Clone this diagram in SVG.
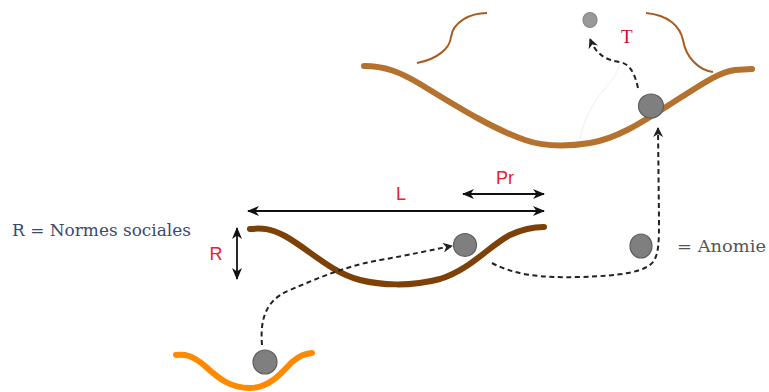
<svg xmlns="http://www.w3.org/2000/svg" width="769" height="392" viewBox="0 0 769 392">
<defs>
<style>
.lbl{font-family:"Liberation Sans",Arial,sans-serif;fill:#e8212b}
.ser{font-family:"DejaVu Serif","Liberation Serif",serif}
.ball{fill:#7f7f7f;stroke:#5e5e5e;stroke-width:1.2}
.dash{fill:none;stroke:#222;stroke-width:2;stroke-dasharray:5,3.5}
.dim{fill:none;stroke:#111;stroke-width:1.8}
</style>
<marker id="ah" viewBox="0 0 12 10" refX="11" refY="5" markerWidth="12" markerHeight="10" markerUnits="userSpaceOnUse" orient="auto-start-reverse">
<path d="M0,0 L12,5 L0,10 L3.5,5 Z" fill="#111"/>
</marker>
<marker id="dh" viewBox="0 0 10 10" refX="9" refY="5" markerWidth="10" markerHeight="10" markerUnits="userSpaceOnUse" orient="auto">
<path d="M0,0 L10,5 L0,10 L3,5 Z" fill="#222"/>
</marker>
</defs>
<rect width="769" height="392" fill="#fff"/>

<g id="top-level">
<path d="M364,66 C385,66 400,72 420,84 C450,102 490,128 525,140 C545,147 565,147 590,143 C620,138 645,120 680,98 C705,82 720,72 735,70 L752,69" fill="none" stroke="#b5722f" stroke-width="6" stroke-linecap="round"/>
<path d="M417,63 C438,59 450,48 451,37 C453,22 470,13 487,13" fill="none" stroke="#a85c1e" stroke-width="2"/>
<path d="M646,13 C668,15 680,26 683,40 C686,58 699,70 713,72" fill="none" stroke="#a85c1e" stroke-width="2"/>
<path d="M580,140 C585,110 600,95 612,80 C618,72 618,68 620,64" fill="none" stroke="#eeeeee" stroke-width="1"/>
</g>

<g id="T-node">
<ellipse class="ball" cx="590" cy="20" rx="7" ry="7.5" style="fill:#999;stroke:#888"/>
<text x="621" y="43" font-family="'Liberation Serif',serif" font-size="19" fill="#c8102e">T</text>
</g>

<g id="anomie-top">
<ellipse class="ball" cx="651" cy="106" rx="12.5" ry="12"/>
</g>

<g id="middle-level">
<path d="M250,229 C262,228 270,228 285,236 C310,250 330,272 360,280 C380,285 410,287 440,279 C470,270 490,245 510,235 C525,228 535,227 544,227" fill="none" stroke="#7d4108" stroke-width="6" stroke-linecap="round"/>
<ellipse class="ball" cx="465" cy="245" rx="11.5" ry="11.5"/>
</g>

<g id="bottom-level">
<path d="M176,355 C185,354 192,355 205,366 C218,378 230,388 250,388 C268,388 280,375 292,362 C300,355 305,354 312,353" fill="none" stroke="#ff8a00" stroke-width="6" stroke-linecap="round"/>
<ellipse class="ball" cx="265" cy="362" rx="12" ry="12"/>
</g>

<g id="legend">
<text class="ser" x="12" y="236" font-size="16.5" fill="#3a4a6e" textLength="179" lengthAdjust="spacingAndGlyphs">R = Normes sociales</text>
<ellipse class="ball" cx="641" cy="246" rx="11" ry="12"/>
<text class="ser" x="677" y="252" font-size="16.5" fill="#555" textLength="89" lengthAdjust="spacingAndGlyphs">= Anomie</text>
</g>

<g id="dimensions">
<line class="dim" x1="248" y1="211" x2="544" y2="211" marker-start="url(#ah)" marker-end="url(#ah)"/>
<line class="dim" x1="463" y1="194" x2="544" y2="194" marker-start="url(#ah)" marker-end="url(#ah)"/>
<line class="dim" x1="237" y1="228" x2="237" y2="279" marker-start="url(#ah)" marker-end="url(#ah)"/>
<text class="lbl" x="401" y="200" font-size="18" text-anchor="middle">L</text>
<text class="lbl" x="505" y="184" font-size="18" text-anchor="middle">Pr</text>
<text class="lbl" x="216" y="260" font-size="18" text-anchor="middle">R</text>
</g>

<g id="connectors">
<path class="dash" d="M262,345 C260,320 265,300 290,290 C320,277 350,265 380,260 C410,255 430,250 452,246" marker-end="url(#dh)"/>
<path class="dash" d="M492,263 C515,275 540,278 580,277 C620,276 645,272 653,262 C659,254 659,240 659,220 L658,128" marker-end="url(#dh)"/>
<path class="dash" d="M638,88 C635,74 630,64 620,62 C605,60 596,54 590,39" marker-end="url(#dh)"/>
</g>
</svg>
